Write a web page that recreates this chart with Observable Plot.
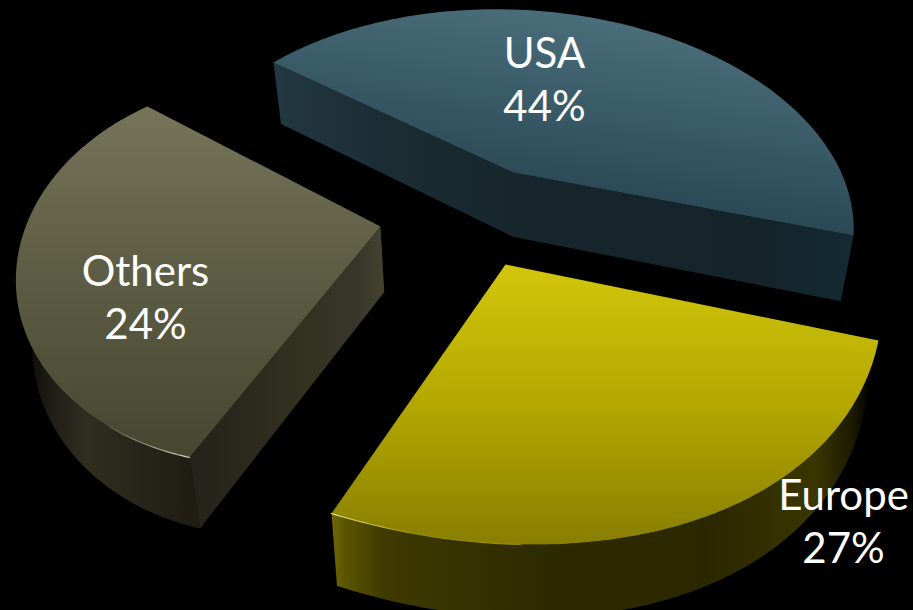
<!DOCTYPE html>
<html>
<head>
<meta charset="utf-8">
<script src="https://cdn.jsdelivr.net/npm/d3@7"></script>
<script src="https://cdn.jsdelivr.net/npm/@observablehq/plot@0.6"></script>
<style>
  html, body { margin: 0; padding: 0; background: #000; overflow: hidden; }
  svg { display: block; }
</style>
</head>
<body>
<script>
const categories = ["USA", "Europe", "Others"];
const shares = [44, 27, 24];

const chartWidth = 913;
const chartHeight = 610;

// Where each exploded slice sits on the tilted table: apex, the two rim ends
// (clockwise) and the rim points a third and two thirds of the way round.
const seats = {
  USA:    { apex: [513, 172], start: [273, 62],  end: [853, 235], rimA: [458, 10],  rimB: [692, 46] },
  Europe: { apex: [505, 264], start: [878, 340], end: [331, 513], rimA: [735, 504], rimB: [525, 544] },
  Others: { apex: [380, 226], start: [189, 457], end: [147, 106], rimA: [50, 376],  rimB: [26, 224] }
};

// Label centres and baseline of the last line.
const labelSeats = {
  USA:    { x: 544, y: 120 },
  Europe: { x: 843, y: 562 },
  Others: { x: 145, y: 338 }
};

// Solve a small linear system by Gaussian elimination.
function solve(A, b) {
  const m = A.map((row, i) => [...row, b[i]]);
  const n = m.length;
  for (let i = 0; i < n; i++) {
    let p = i;
    for (let r = i + 1; r < n; r++) if (Math.abs(m[r][i]) > Math.abs(m[p][i])) p = r;
    [m[i], m[p]] = [m[p], m[i]];
    for (let r = i + 1; r < n; r++) {
      const f = m[r][i] / m[i][i];
      for (let c = i; c < n + 1; c++) m[r][c] -= f * m[i][c];
    }
  }
  const x = new Array(n);
  for (let i = n - 1; i >= 0; i--) {
    let s = m[i][n];
    for (let c = i + 1; c < n; c++) s -= m[i][c] * x[c];
    x[i] = s / m[i][i];
  }
  return x;
}

// Perspective map from the unit circle to the page, pinned on four rim points.
function perspective(seat, a0, a1) {
  const pairs = [
    [a0, seat.start],
    [a0 + (a1 - a0) / 3, seat.rimA],
    [a0 + (2 * (a1 - a0)) / 3, seat.rimB],
    [a1, seat.end]
  ];
  const A = [], b = [];
  for (const [ang, [X, Y]] of pairs) {
    const u = Math.sin(ang), v = -Math.cos(ang);
    A.push([u, v, 1, 0, 0, 0, -u * X, -v * X]); b.push(X);
    A.push([0, 0, 0, u, v, 1, -u * Y, -v * Y]); b.push(Y);
  }
  const [a, bb, c, d, e, f, g, h] = solve(A, b);
  return (ang) => {
    const u = Math.sin(ang), v = -Math.cos(ang);
    const w = g * u + h * v + 1;
    return [(a * u + bb * v + c) / w, (d * u + e * v + f) / w];
  };
}

// The slab's lower face: straight down with a slight convergence.
const drop = ([x, y]) => [x + (488 - x) * 0.035, y + 60 + 0.024 * y];

const pie = d3.pie().sort(null).value((d) => d.share)
  .startAngle(0.43).endAngle(0.43 + 2 * Math.PI);
const rows = categories.map((name, i) => ({ name, share: shares[i] }));

const slices = pie(rows).map((arc) => {
  const name = arc.data.name;
  const seat = seats[name];
  const map = perspective(seat, arc.startAngle, arc.endAngle);
  const rim = d3.range(0, 121).map((i) =>
    map(arc.startAngle + ((arc.endAngle - arc.startAngle) * i) / 120));
  return { name, seat, rim, share: arc.data.share };
});

const poly = (points) => points.map(([x, y]) => ({ x, y }));
const topFace = (s) => poly([s.seat.apex, ...s.rim]);
const curvedWall = (s) => poly([...s.rim, ...s.rim.map(drop).reverse()]);
const flatWall = (s, corner) => poly([s.seat.apex, corner, drop(corner), drop(s.seat.apex)]);
// Both straight cuts of a slice as one continuous band.
const cutBand = (s) => {
  const { start, apex, end } = s.seat;
  return poly([end, apex, start, drop(start), drop(apex), drop(end)]);
};

const bySlice = Object.fromEntries(slices.map((s) => [s.name, s]));
const face = (points, fill) => Plot.line(points, { x: "x", y: "y", fill, stroke: "none" });

// Gradient paints for faces, in page coordinates.
const paints = {
  usaTop:   { p: [560, 8, 525, 240], stops: [[0, "#4b6e7b"], [0.5, "#365663"], [1, "#223f49"]] },
  usaBand:  { p: [273, 0, 853, 0], stops: [[0, "#233842"], [0.2, "#1b2c33"], [0.42, "#16262c"], [0.85, "#14242a"], [1, "#152a34"]] },
  eurTop:   { p: [0, 264, 0, 545], stops: [[0, "#d2c60c"], [0.5, "#b3a700"], [1, "#887e00"]] },
  eurWall:  { p: [331, 0, 868, 0], stops: [[0, "#6f6800"], [0.025, "#5a5400"], [0.1, "#3e3a00"], [0.4, "#2e2a00"], [0.7, "#2b2700"], [0.9, "#3a3600"], [0.97, "#1c1a00"], [1, "#040400"]] },
  othTop:   { p: [0, 106, 0, 457], stops: [[0, "#767459"], [0.5, "#5c5b43"], [1, "#474731"]] },
  othFlat:  { p: [190, 0, 385, 0], stops: [[0, "#24221a"], [0.55, "#33311f"], [0.85, "#38362a"], [1, "#45432f"]] },
  othWall:  { p: [20, 0, 200, 0], stops: [[0, "#050503"], [0.16, "#1e1c16"], [0.36, "#302e20"], [0.65, "#28261a"], [1, "#1e1c13"]] },
  othGlint: { p: [110, 0, 190, 0], stops: [[0, "#5c5b43"], [1, "#d8d6c4"]] },
  eurGlint: { p: [331, 0, 420, 0], stops: [[0, "#eee88a"], [1, "#9a9000"]] }
};

const gradients = () => {
  const defs = d3.create("svg:defs");
  for (const [id, { p, stops }] of Object.entries(paints)) {
    const g = defs.append("linearGradient").attr("id", id)
      .attr("gradientUnits", "userSpaceOnUse")
      .attr("x1", p[0]).attr("y1", p[1]).attr("x2", p[2]).attr("y2", p[3]);
    for (const [o, c] of stops) g.append("stop").attr("offset", o).attr("stop-color", c);
  }
  return defs.node();
};

const usa = bySlice.USA, eur = bySlice.Europe, oth = bySlice.Others;

const labels = slices.map((s) => ({
  text: `${s.name}\n${s.share}%`,
  x: labelSeats[s.name].x,
  y: labelSeats[s.name].y
}));

const chart = Plot.plot({
  width: chartWidth,
  height: chartHeight,
  margin: 0,
  style: { background: "#000" },
  x: { domain: [0, chartWidth], range: [0, chartWidth], axis: null },
  y: { domain: [0, chartHeight], range: [0, chartHeight], axis: null },
  marks: [
    gradients,
    // USA slab
    face(cutBand(usa), "url(#usaBand)"),
    face(topFace(usa), "url(#usaTop)"),
    // Others slab
    face(curvedWall(oth), "url(#othWall)"),
    face(flatWall(oth, oth.seat.start), "url(#othFlat)"),
    face(topFace(oth), "url(#othTop)"),
    Plot.line(poly(oth.rim.slice(0, 22)), { x: "x", y: "y", stroke: "url(#othGlint)", strokeWidth: 1.2 }),
    // Europe slab
    face(curvedWall(eur), "url(#eurWall)"),
    face(topFace(eur), "url(#eurTop)"),
    Plot.line(poly(eur.rim.slice(-40)), { x: "x", y: "y", stroke: "url(#eurGlint)", strokeWidth: 1.1 }),
    Plot.text(labels, {
      x: "x",
      y: "y",
      text: "text",
      fill: "#fff",
      stroke: "none",
      textAnchor: "middle",
      lineAnchor: "bottom",
      lineHeight: 1.26,
      fontFamily: "Lato",
      fontSize: 42
    })
  ]
});

document.body.append(chart);
</script>
</body>
</html>
